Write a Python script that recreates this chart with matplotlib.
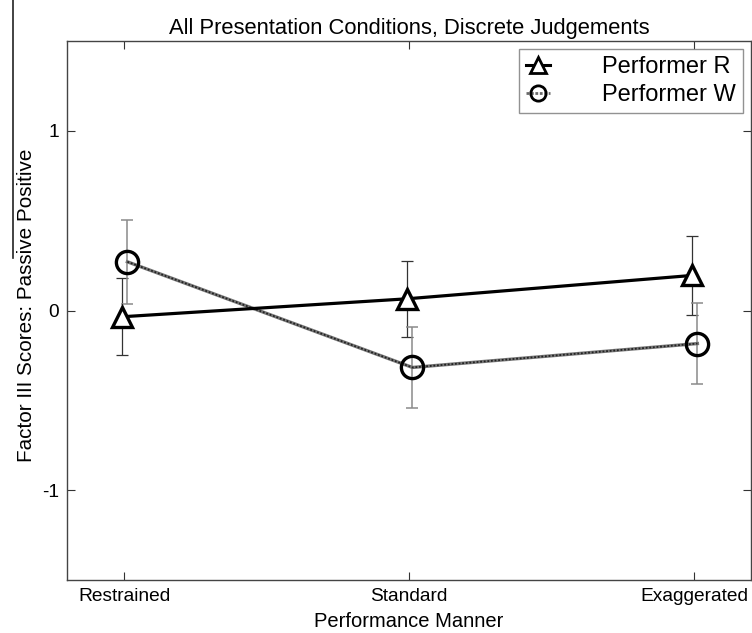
import numpy as np
import matplotlib
matplotlib.use('Agg')
import matplotlib.pyplot as plt
from matplotlib.lines import Line2D

plt.rcParams['font.family'] = ['Liberation Sans', 'DejaVu Sans']

# Data
manners = ['Restrained', 'Standard', 'Exaggerated']
perf_r = [-0.035, 0.065, 0.195]
perf_r_err = [0.215, 0.21, 0.222]
perf_w = [0.271, -0.317, -0.184]
perf_w_err = [0.234, 0.223, 0.224]

x = np.arange(1, len(manners) + 1)

fig = plt.figure(figsize=(7.52, 6.33), dpi=100)
ax = fig.add_axes([67 / 752, 1 - 580 / 633, (751 - 67) / 752, (580 - 41) / 633])

# Performer R (solid black)
ax.errorbar(x - 0.008, perf_r, yerr=perf_r_err, fmt='none', ecolor='#333333',
            elinewidth=0.9, capsize=4, capthick=0.9, zorder=2)
ax.plot(x - 0.008, perf_r, color='black', lw=2.3, marker='^', ms=15,
        mfc='white', mec='black', mew=2.4, zorder=4)

# Performer W (grey hatched line)
ax.errorbar(x + 0.012, perf_w, yerr=perf_w_err, fmt='none', ecolor='#8a8a8a',
            elinewidth=1.1, capsize=4, capthick=1.1, zorder=2)
ax.plot(x + 0.012, perf_w, color='#777777', lw=2.4, zorder=3)
ax.plot(x + 0.012, perf_w, color='#222222', lw=1.3, ls=(0, (1, 1)), zorder=3)
ax.plot(x + 0.012, perf_w, ls='none', marker='o', ms=16,
        mfc='none', mec='black', mew=2.4, zorder=4)

ax.set_xlim(0.8, 3.2)
ax.set_ylim(-1.5, 1.5)
ax.set_xticks(x)
ax.set_xticklabels(manners)
ax.set_yticks([-1, 0, 1])
ax.set_yticklabels(['-1', '0', '1'])
ax.tick_params(direction='in', length=6, width=0.8, color='#333333',
               top=True, right=True, labelsize=13.8, pad=6)
for s in ax.spines.values():
    s.set_color('#444444')
    s.set_linewidth(1)

ax.set_title('All Presentation Conditions, Discrete Judgements', fontsize=15.8, pad=5)
ax.set_xlabel('Performance Manner', fontsize=14.5, labelpad=5)
ax.set_ylabel('Factor III Scores: Passive Positive', fontsize=14.9)
ax.yaxis.set_label_coords(-0.045, 0.51)

handles = [
    Line2D([], [], color='black', lw=2.2, marker='^', ms=11, mfc='white',
           mec='black', mew=2.0),
    Line2D([], [], color='#6a6a6a', lw=2.0, ls=(0, (1, 0.6)), marker='o', ms=11,
           mfc='none', mec='black', mew=2.0),
]
leg = ax.legend(handles, ['Performer R', 'Performer W'], loc='upper right',
                bbox_to_anchor=(0.988, 0.985), borderaxespad=0,
                fontsize=17, frameon=True, fancybox=False, handlelength=1.0,
                handletextpad=2.2, borderpad=0.3, labelspacing=0.25)
leg.get_frame().set_edgecolor('#777777')
leg.get_frame().set_linewidth(1)

# stray vertical rule at the left edge of the original figure
fig.add_artist(Line2D([13 / 752, 13 / 752], [1, 1 - 258 / 633],
                      color='#222222', lw=1.2))

fig.savefig('out.png', dpi=100)
